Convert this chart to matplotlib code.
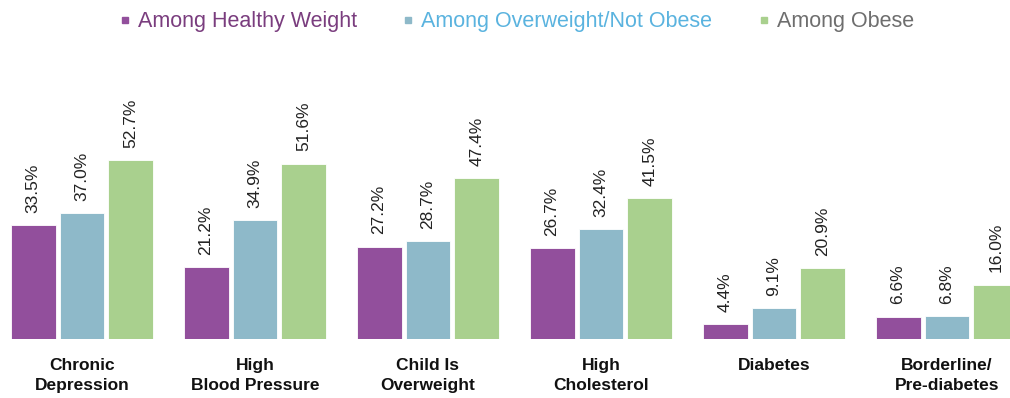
import matplotlib
matplotlib.use("Agg")
import numpy as np
import matplotlib.pyplot as plt
from matplotlib.lines import Line2D

plt.rcParams['font.family'] = ['Liberation Sans', 'DejaVu Sans']

categories = ["Chronic\nDepression", "High\nBlood Pressure", "Child Is\nOverweight",
              "High\nCholesterol", "Diabetes", "Borderline/\nPre-diabetes"]
series_names = ["Among Healthy Weight", "Among Overweight/Not Obese", "Among Obese"]
healthy = [33.5, 21.2, 27.2, 26.7, 4.4, 6.6]
overweight = [37.0, 34.9, 28.7, 32.4, 9.1, 6.8]
obese = [52.7, 51.6, 47.4, 41.5, 20.9, 16.0]

colors = ["#924F9C", "#8EB9C9", "#A9D08E"]
text_colors = ["#7A3D7E", "#5AB3DF", "#6E6E6E"]

fig = plt.figure(figsize=(10.10, 3.98), dpi=100)
ax = fig.add_axes([0, 59 / 398, 1, 299 / 398])

x = np.arange(len(categories))
step = 0.283
width = 0.26
for i, vals in enumerate([healthy, overweight, obese]):
    xs = x + (i - 1) * step
    ax.bar(xs, vals, width=width, color=colors[i], edgecolor='white', linewidth=0.6)
    for xi, v in zip(xs, vals):
        ax.text(xi, v + 3.6, f"{v:.1f}%", rotation=90, ha='center', va='bottom',
                fontsize=12.5, color='#222222')

ax.set_xlim(-82 / 173, (1010 - 82) / 173)
ax.set_ylim(0, 88)
ax.set_xticks(x)
ax.set_xticklabels(categories, fontsize=12.5, fontweight='bold', color='#111111',
                   linespacing=1.4)
ax.tick_params(axis='x', length=0, pad=14)
ax.set_yticks([])
for s in ax.spines.values():
    s.set_visible(False)

handles = [Line2D([], [], marker='s', linestyle='none', markersize=5,
                  color=c) for c in colors]
leg = fig.legend(handles, series_names, loc='upper center', bbox_to_anchor=(0.51, 1.02),
                 ncol=3, frameon=False, fontsize=15.5, handletextpad=0.2,
                 columnspacing=2.0, handlelength=0.8)
for t, c in zip(leg.get_texts(), text_colors):
    t.set_color(c)

fig.savefig("out.png", dpi=100)
